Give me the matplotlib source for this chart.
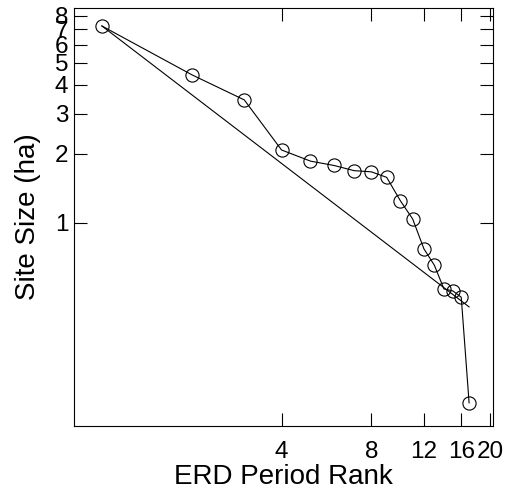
import numpy as np
import matplotlib.pyplot as plt

plt.rcParams['font.family'] = ['Liberation Sans', 'DejaVu Sans']

# rank-size data
rank = [1, 2, 3, 4, 5, 6, 7, 8, 9, 10, 11, 12, 13, 14, 15, 16, 17]
size = [7.23, 4.43, 3.44, 2.08, 1.86, 1.78, 1.69, 1.67, 1.58,
        1.25, 1.04, 0.77, 0.654, 0.515, 0.505, 0.474, 0.164]

# rank-size rule line (end points)
fit_x = [1, 17]
fit_y = [7.23, 0.43]

xticks = [4, 8, 12, 16, 20]
yticks = [1, 2, 3, 4, 5, 6, 7, 8]

fig = plt.figure(figsize=(5.1, 5.0), dpi=100)
ax = fig.add_axes([0.145, 0.148, 0.822, 0.836])

ax.plot(fit_x, fit_y, color='black', lw=0.8)
ax.plot(rank, size, color='black', lw=0.8, marker='o', ms=9.5,
        mfc='none', mec='black', mew=0.8)

ax.set_xscale('log')
ax.set_yscale('log')
ax.set_xlim(0.806, 20.47)
ax.set_ylim(0.130, 8.66)

ax.set_xticks(xticks)
ax.set_xticklabels([str(t) for t in xticks])
ax.set_yticks(yticks)
ax.set_yticklabels([str(t) for t in yticks])
ax.minorticks_off()

ax.tick_params(axis='both', which='major', direction='in', length=9.5,
               width=0.8, labelsize=17.5, top=True, right=True)
ax.tick_params(axis='x', pad=10.5)
ax.tick_params(axis='y', pad=4)
for s in ax.spines.values():
    s.set_linewidth(0.8)

ax.set_xlabel('ERD Period Rank', fontsize=20, labelpad=1)
ax.set_ylabel('Site Size (ha)', fontsize=20, labelpad=10)

fig.savefig('out.png', dpi=100)
